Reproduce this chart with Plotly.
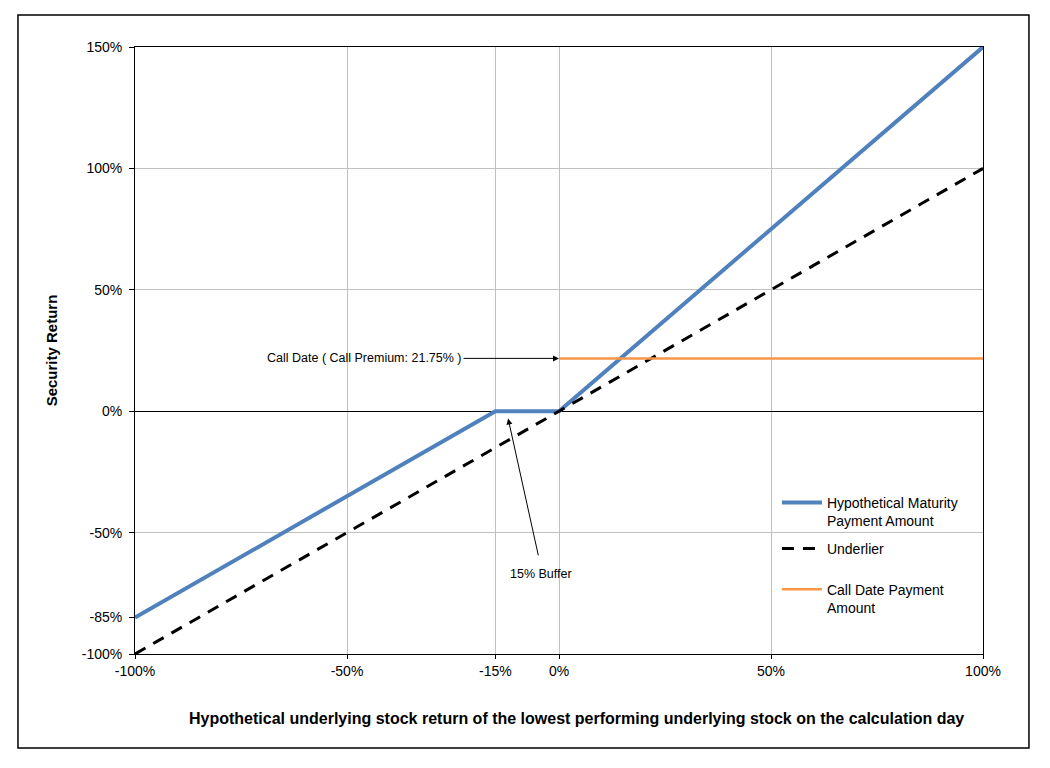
import plotly.graph_objects as go

# Data
x_maturity = [-100, -15, 0, 100]
y_maturity = [-85, 0, 0, 150]
x_underlier = [-100, 100]
y_underlier = [-100, 100]
x_call = [0, 100]
y_call = [21.75, 21.75]

x_ticks = [-100, -50, -15, 0, 50, 100]
x_ticklabels = ["-100%", "-50%", "-15%", "0%", "50%", "100%"]
y_ticks = [-100, -50, 0, 50, 100, 150]
y_ticklabels = ["-100%", "-50%", "0%", "50%", "100%", "150%"]
y_extra_ticks = [-85]
y_extra_labels = ["-85%"]

call_premium = 21.75

fig = go.Figure()
fig.add_trace(go.Scatter(x=x_maturity, y=y_maturity, mode="lines",
                         name="Hypothetical Maturity<br>Payment Amount",
                         line=dict(color="#4F81BD", width=4), legend="legend"))
fig.add_trace(go.Scatter(x=x_underlier, y=y_underlier, mode="lines",
                         name="Underlier",
                         line=dict(color="black", width=3, dash="12px,9px"), legend="legend2"))
fig.add_trace(go.Scatter(x=x_call, y=y_call, mode="lines",
                         name="Call Date Payment<br>Amount",
                         line=dict(color="#F79646", width=2.5), legend="legend3"))
fig.add_trace(go.Scatter(x=[None], y=[None], yaxis="y2", showlegend=False,
                         hoverinfo="skip", mode="lines"))

font_main = "Liberation Sans, Arial, sans-serif"
leg_common = dict(x=0.757, xanchor="left", yanchor="middle",
                  bgcolor="rgba(255,255,255,0)", font=dict(size=14),
                  valign="top", itemwidth=40)

fig.update_layout(
    width=1050, height=768,
    margin=dict(l=135, r=67, t=47, b=114),
    paper_bgcolor="white", plot_bgcolor="white",
    font=dict(family=font_main, size=14, color="black"),
    xaxis=dict(range=[-100, 100], tickvals=x_ticks, ticktext=x_ticklabels,
               showgrid=True, gridcolor="#C0C0C0", gridwidth=1,
               zeroline=False, showline=True, linecolor="black", linewidth=1,
               mirror=True, ticks="outside", ticklen=4, tickcolor="black",
               tickfont=dict(size=14)),
    yaxis=dict(range=[-100, 150], tickvals=y_ticks, ticktext=y_ticklabels,
               showgrid=True, gridcolor="#C0C0C0", gridwidth=1,
               zeroline=True, zerolinecolor="black", zerolinewidth=1,
               showline=True, linecolor="black", linewidth=1, mirror=True,
               ticks="outside", ticklen=5, tickcolor="black",
               tickfont=dict(size=14), ticklabelstandoff=4,
               title=dict(text="<b>Security Return</b>", font=dict(size=15), standoff=20)),
    yaxis2=dict(range=[-100, 150], overlaying="y", side="left", tickvals=y_extra_ticks,
                ticktext=y_extra_labels, showgrid=False, zeroline=False,
                showline=False, ticks="outside", ticklen=5, tickcolor="black",
                tickfont=dict(size=14), ticklabelstandoff=4),
    legend=dict(y=0.234, **leg_common),
    legend2=dict(y=0.173, **leg_common),
    legend3=dict(y=0.091, **leg_common),
    showlegend=True,
)

# x-axis title
fig.add_annotation(xref="paper", yref="paper", x=0.521, y=-0.106,
                   text="<b>Hypothetical underlying stock return of the lowest performing underlying stock on the calculation day</b>",
                   showarrow=False, xanchor="center", yanchor="middle",
                   font=dict(family="Liberation Sans Narrow, Arial Narrow, Liberation Sans, sans-serif", size=16))

fig.add_annotation(x=0, y=call_premium, xref="x", yref="y",
                   ax=-22.5, ay=call_premium, axref="x", ayref="y",
                   text="Call Date ( Call Premium: 21.75% )",
                   xanchor="right", showarrow=True, arrowhead=2, arrowsize=1.2,
                   arrowwidth=1, arrowcolor="black",
                   font=dict(size=12.5, family=font_main))
fig.add_annotation(x=-12, y=-3, xref="x", yref="y",
                   ax=-4.8, ay=-60, axref="x", ayref="y",
                   text="", showarrow=True, arrowhead=2, arrowsize=1.2,
                   arrowwidth=1, arrowcolor="black")
fig.add_annotation(x=-4.2, y=-67, xref="x", yref="y", text="15% Buffer",
                   showarrow=False, font=dict(size=12.5, family=font_main))

# outer border
fig.add_shape(type="rect", xref="paper", yref="paper",
              x0=-0.138, x1=1.0542, y0=-0.1549, y1=1.0527,
              line=dict(color="black", width=1.5), fillcolor="rgba(0,0,0,0)")

fig.write_html("out.html")
